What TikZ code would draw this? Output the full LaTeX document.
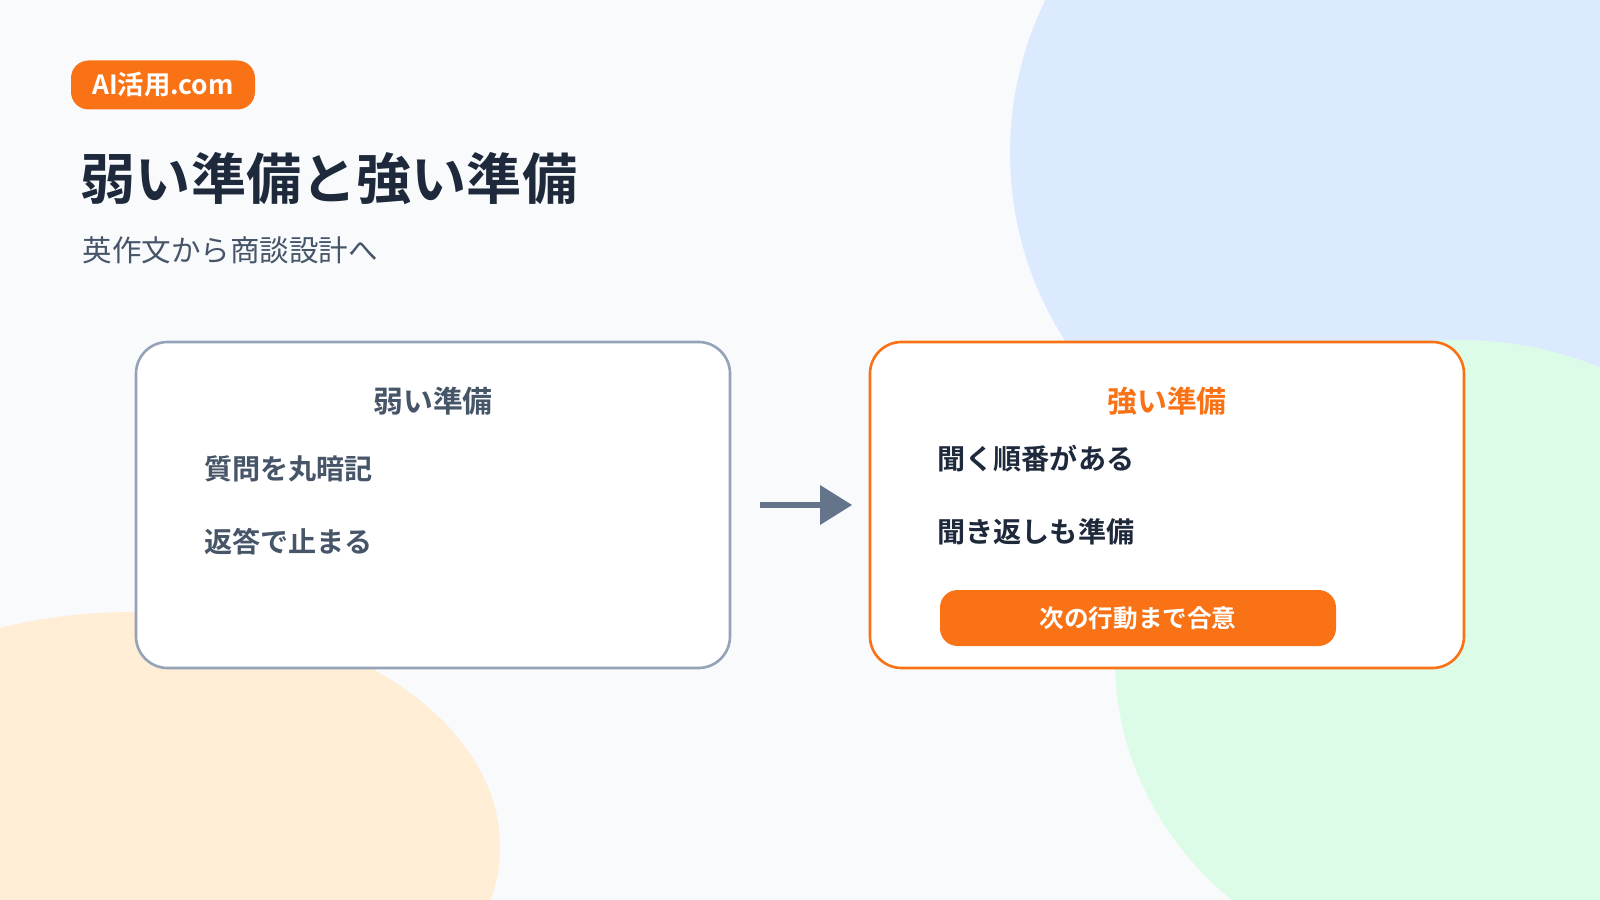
\documentclass[tikz,border=0pt]{standalone}
\usepackage{fontspec}
\setmainfont{Noto Sans CJK JP}
\newfontfamily\jpbold{Noto Sans CJK JP Bold}
\usetikzlibrary{positioning}
\definecolor{bgcol}{HTML}{F8FAFC}
\definecolor{blueblob}{HTML}{DBEAFE}
\definecolor{greenblob}{HTML}{DCFCE7}
\definecolor{peachblob}{HTML}{FFEDD5}
\definecolor{accent}{HTML}{F97316}
\definecolor{slate}{HTML}{94A3B8}
\definecolor{slatedark}{HTML}{475569}
\definecolor{ink}{HTML}{1E293B}
\definecolor{arrowcol}{HTML}{64748B}
\tikzset{
	card/.style={draw,line width=0.75pt,rounded corners=9pt,fill=white,minimum width=59.4mm,minimum height=32.6mm},
	card title/.style={font=\jpbold\fontsize{8.5}{10}\selectfont},
	item/.style={anchor=west,font=\jpbold\fontsize{8}{9}\selectfont},
	pill/.style={fill=accent,rounded corners=5pt,text=white,font=\jpbold\fontsize{7}{8}\selectfont}
}
\begin{document}
\begin{tikzpicture}[x=0.1mm,y=-0.1mm]
	\useasboundingbox (0,0) rectangle (1600,900);
	\begin{scope}
		\clip (0,0) rectangle (1600,900);
		\fill[bgcol] (0,0) rectangle (1600,900);
		\fill[blueblob] (1357,153) circle[radius=34.7mm];
		\fill[greenblob] (1460,660) ellipse[x radius=34.5mm,y radius=32mm];
		\fill[peachblob] (133,847) ellipse[x radius=36.7mm,y radius=23.5mm];
	\end{scope}

	% header
	\node[pill,minimum width=18.4mm,minimum height=4.9mm,inner sep=0,font=\jpbold\fontsize{7.5}{9}\selectfont] (badge) at (163,85) {AI活用.com};
	\node[anchor=west,inner sep=0,text=ink,font=\jpbold\fontsize{15.7}{18}\selectfont] (title) at (80,179) {弱い準備と強い準備};
	\node[anchor=west,inner sep=0,text=slatedark,font=\fontsize{8.4}{10}\selectfont] (subtitle) at (82,250) {英作文から商談設計へ};

	% cards
	\node[card,draw=slate] (weak) at (433,505) {};
	\node[card,draw=accent] (strong) at (1167,505) {};

	\node[card title,text=slatedark] (weak title) at (433,401) {弱い準備};
	\node[item,text=slatedark] (weak a) at (192,469) {質問を丸暗記};
	\node[item,text=slatedark] (weak b) at (192,542) {返答で止まる};

	\node[card title,text=accent] (strong title) at (1167,401) {強い準備};
	\node[item,text=ink] (strong a) at (925,459) {聞く順番がある};
	\node[item,text=ink] (strong b) at (925,532) {聞き返しも準備};
	\node[pill,minimum width=39.6mm,minimum height=5.6mm,inner sep=0] (agree) at (1138,618) {次の行動まで合意};

	% arrow
	\coordinate (from) at (760,505);
	\coordinate (to) at (852,505);
	\draw[arrowcol,line width=1.6pt] (from) -- (820,505);
	\fill[arrowcol] (820,485) -- (to) -- (820,525) -- cycle;
\end{tikzpicture}
\end{document}
